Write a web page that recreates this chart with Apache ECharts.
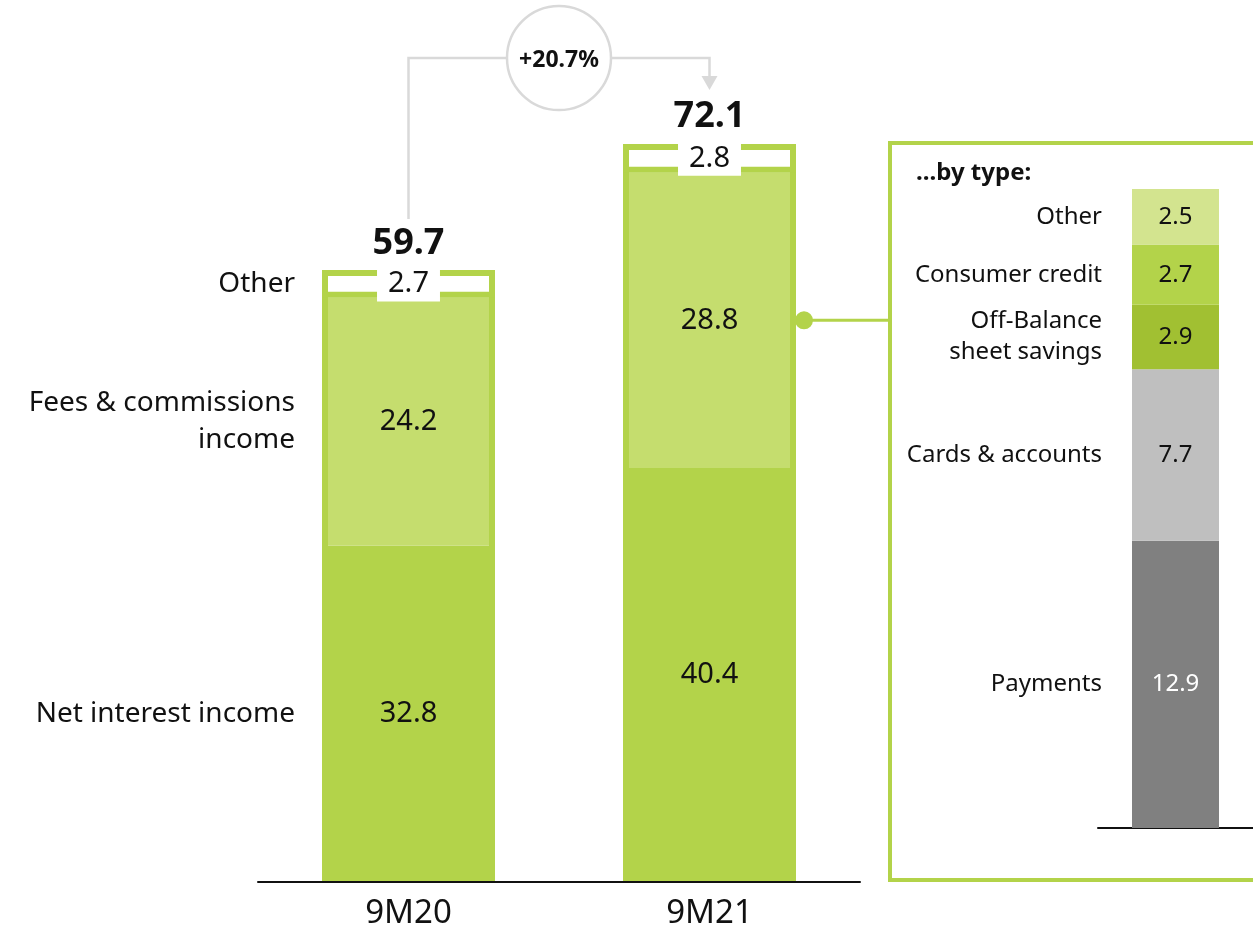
<!DOCTYPE html>
<html>
<head>
<meta charset="utf-8">
<script src="https://cdn.jsdelivr.net/npm/echarts@6/dist/echarts.min.js"></script>
<style>
  html, body { margin: 0; padding: 0; background: #fff; }
  #chart { width: 1253px; height: 934px; }
</style>
</head>
<body>
<div id="chart"></div>
<script>
// data
const categories = ['9M20', '9M21'];
const netInterest = [32.8, 40.4];
const fees = [24.2, 28.8];
const other = [2.7, 2.8];
const totals = [59.7, 72.1];
const segmentNames = ['Net interest income', 'Fees & commissions\nincome', 'Other'];
const growthLabel = '+20.7%';

const feeCategory = ['9M21'];
const feeTypes = ['Payments', 'Cards & accounts', 'Off-Balance\nsheet savings', 'Consumer credit', 'Other'];
const feeValues = [12.9, 7.7, 2.9, 2.7, 2.5];

// styles
const FONT = 'Noto Sans';
const GREEN = '#b3d34a';
const LIGHT = '#c5dd6e';
const feeColors = ['#808080', '#bfbfbf', '#a1c032', '#b3d34a', '#d3e48f'];
const feeText = ['#fff', '#111', '#111', '#111', '#111'];
const MAIN_BAR = 173;
const FEE_BAR = 87;

const chart = echarts.init(document.getElementById('chart'));

const mainSeries = [netInterest, fees, other];
const mainColors = [GREEN, LIGHT, '#ffffff'];
const stackSum = categories.map((c, k) => netInterest[k] + fees[k] + other[k]);

const series = [];

// main stacked bars (only "Other" carries its own border, the outline comes from the frame series)
mainSeries.forEach((vals, i) => {
  series.push({
    name: segmentNames[i],
    type: 'bar',
    stack: 'main',
    z: i === 2 ? 4 : 2,
    xAxisIndex: 0, yAxisIndex: 0,
    barWidth: MAIN_BAR,
    barGap: '-100%',
    itemStyle: { color: mainColors[i], borderColor: GREEN, borderWidth: i === 2 ? 6 : 0 },
    label: {
      show: true,
      position: 'inside',
      fontFamily: FONT, fontSize: 29, color: '#111',
      backgroundColor: i === 2 ? '#fff' : 'transparent',
      padding: i === 2 ? [3, 11] : 0,
      formatter: p => p.value.toFixed(1)
    },
    markPoint: i === 2 ? {
      symbol: 'circle', symbolSize: 0,
      label: {
        show: true, position: 'top', distance: 8,
        fontFamily: FONT, fontSize: 36, fontWeight: 'bold', color: '#111',
        formatter: p => p.value.toFixed(1)
      },
      data: totals.map((t, k) => ({ coord: [k, t], value: t }))
    } : undefined,
    data: vals
  });
});

// green outline around each whole bar
series.push({
  type: 'bar',
  stack: 'frame',
  silent: true,
  z: 3,
  xAxisIndex: 0, yAxisIndex: 0,
  barWidth: MAIN_BAR,
  barGap: '-100%',
  itemStyle: { color: 'transparent', borderColor: GREEN, borderWidth: 6 },
  data: stackSum
});

// transparent twin stack carrying the segment names (first bar only)
mainSeries.forEach((vals, i) => {
  series.push({
    type: 'bar',
    stack: 'mainNames',
    silent: true,
    xAxisIndex: 0, yAxisIndex: 0,
    barWidth: MAIN_BAR,
    barGap: '-100%',
    itemStyle: { color: 'transparent' },
    label: {
      show: true, position: 'left', distance: 27,
      align: 'right',
      fontFamily: FONT, fontSize: 28, lineHeight: 37, color: '#111',
      formatter: () => segmentNames[i]
    },
    data: vals.map((v, k) => k === 0 ? v : { value: v, label: { show: false } })
  });
});

// fee breakdown bar
feeValues.forEach((v, i) => {
  series.push({
    name: feeTypes[i],
    type: 'bar',
    stack: 'fees',
    xAxisIndex: 1, yAxisIndex: 1,
    barWidth: FEE_BAR,
    barGap: '-100%',
    itemStyle: { color: feeColors[i] },
    label: {
      show: true, position: 'inside',
      fontFamily: FONT, fontSize: 24, color: feeText[i],
      formatter: p => p.value.toFixed(1)
    },
    data: [v]
  });
});
feeValues.forEach((v, i) => {
  series.push({
    type: 'bar',
    stack: 'feeNames',
    silent: true,
    xAxisIndex: 1, yAxisIndex: 1,
    barWidth: FEE_BAR,
    barGap: '-100%',
    itemStyle: { color: 'transparent' },
    label: {
      show: true, position: 'left', distance: 30, align: 'right',
      fontFamily: FONT, fontSize: 24, lineHeight: 31, color: '#111',
      formatter: () => feeTypes[i]
    },
    data: [v]
  });
});

const option = {
  animation: false,
  backgroundColor: '#fff',
  grid: [
    { left: 258, right: 393, top: 62, bottom: 52 },
    { left: 1098, right: 0, top: 160, bottom: 106 }
  ],
  xAxis: [
    {
      type: 'category', gridIndex: 0, data: categories,
      axisLine: { lineStyle: { color: '#111', width: 2 } },
      axisTick: { show: false },
      axisLabel: { fontFamily: FONT, fontSize: 33, color: '#111', margin: 15 },
      z: 5
    },
    {
      type: 'category', gridIndex: 1, data: feeCategory,
      axisLine: { lineStyle: { color: '#111', width: 2 } },
      axisTick: { show: false },
      axisLabel: { show: false }
    }
  ],
  yAxis: [
    { type: 'value', gridIndex: 0, min: 0, max: 80, show: false },
    { type: 'value', gridIndex: 1, min: 0, max: 30, show: false }
  ],
  series: series
};

chart.setOption(option);

// annotations placed from the axes
const p0 = chart.convertToPixel({ gridIndex: 0 }, [0, totals[0]]);
const p1 = chart.convertToPixel({ gridIndex: 0 }, [1, totals[1]]);
const feeMid = chart.convertToPixel({ gridIndex: 0 }, [1, netInterest[1] + fees[1] / 2]);
const lineY = 58, r = 52;
const cx = (p0[0] + p1[0]) / 2;
const gray = '#d9d9d9';
const barRight = p1[0] + MAIN_BAR / 2;

chart.setOption({
  graphic: [
    { type: 'polyline', shape: { points: [[p0[0], p0[1] - 51], [p0[0], lineY], [cx - r, lineY]] },
      style: { stroke: gray, lineWidth: 2.5, fill: null } },
    { type: 'polyline', shape: { points: [[cx + r, lineY], [p1[0], lineY], [p1[0], lineY + 22]] },
      style: { stroke: gray, lineWidth: 2.5, fill: null } },
    { type: 'polygon', shape: { points: [[p1[0] - 8, lineY + 18], [p1[0] + 8, lineY + 18], [p1[0], lineY + 32]] },
      style: { fill: gray } },
    { type: 'circle', shape: { cx: cx, cy: lineY, r: r },
      style: { stroke: gray, lineWidth: 2.5, fill: '#fff' } },
    { type: 'text', x: cx, y: lineY + 2,
      style: { text: growthLabel, fontFamily: FONT, fontSize: 23, fontWeight: 'bold', fill: '#111',
               align: 'center', verticalAlign: 'middle' } },
    // frame around the breakdown
    { type: 'rect', shape: { x: 890, y: 143, width: 420, height: 737 },
      style: { stroke: GREEN, lineWidth: 4, fill: null } },
    { type: 'line', shape: { x1: barRight, y1: feeMid[1], x2: 890, y2: feeMid[1] },
      style: { stroke: GREEN, lineWidth: 3 } },
    { type: 'circle', shape: { cx: barRight + 8, cy: feeMid[1], r: 9 },
      style: { fill: GREEN } },
    { type: 'text', x: 916, y: 173,
      style: { text: '...by type:', fontFamily: FONT, fontSize: 24, fontWeight: 'bold', fill: '#111',
               align: 'left', verticalAlign: 'middle' } }
  ]
});
</script>
</body>
</html>
